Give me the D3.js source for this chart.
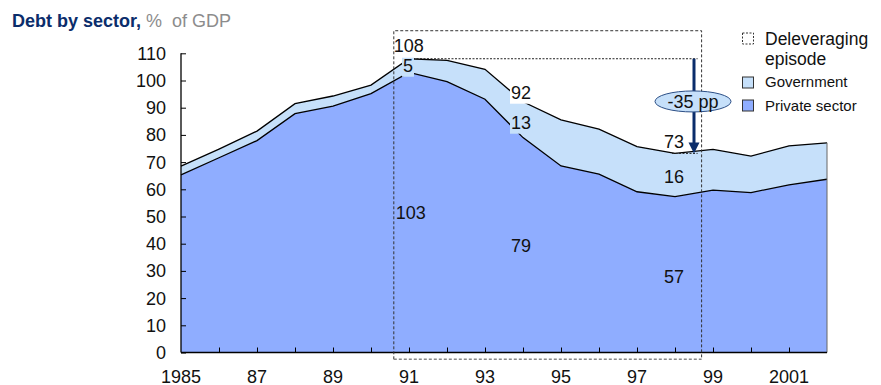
<!DOCTYPE html>
<html><head><meta charset="utf-8">
<script src="https://cdn.jsdelivr.net/npm/d3@7"></script>
<style>
html,body{margin:0;padding:0;background:#fff;}
svg{display:block;font-family:"Liberation Sans",Arial,sans-serif;}
</style></head>
<body><svg id="c" width="881" height="385"></svg>
<script>
const years = [1985,1986,1987,1988,1989,1990,1991,1992,1993,1994,1995,1996,1997,1998,1999,2000,2001,2002];
const privateDebt = [65.3,71.6,77.9,87.8,90.6,95.2,103,99.6,93.1,79,68.6,65.6,59.1,57.3,59.7,58.8,61.6,63.7];
const totalDebt   = [68.5,74.8,81.4,91.5,94.3,98.3,108,107.4,104.1,92.2,85.5,82.1,75.7,73.2,74.7,72.2,76,77.1];
const government = totalDebt.map((t,i)=>+(t-privateDebt[i]).toFixed(1));
const yTicks = [0,10,20,30,40,50,60,70,80,90,100,110];
const xTickLabels = [[1985,"1985"],[1987,"87"],[1989,"89"],[1991,"91"],[1993,"93"],[1995,"95"],[1997,"97"],[1999,"99"],[2001,"2001"]];
const episode = [1990.6, 1998.7];
const peakYear = 1991, troughYear = 1998, midYear = 1994;
const colors = {priv:"#8fadff", gov:"#c6e0fa", navy:"#0b2d6b", grey:"#8c8c8c"};
const FS = "18px";

const svg = d3.select("#c");
const x = d3.scaleLinear().domain([1985,2002]).range([181,827]);
const y = d3.scaleLinear().domain([0,110]).range([352.5,53.3]);

// title
const t = svg.append("text").attr("x",12).attr("y",27).style("font-size",FS);
t.append("tspan").attr("fill",colors.navy).attr("font-weight","bold").text("Debt by sector,");
t.append("tspan").attr("fill",colors.grey).attr("dx",5).text("%\u00a0 of GDP");

const rows = years.map((yr,i)=>({yr, p:privateDebt[i], g:government[i], t:privateDebt[i]+government[i]}));

// areas
svg.append("path").datum(rows).attr("fill",colors.gov)
  .attr("d", d3.area().x(d=>x(d.yr)).y0(d=>y(d.p)).y1(d=>y(d.t)));
svg.append("path").datum(rows).attr("fill",colors.priv)
  .attr("d", d3.area().x(d=>x(d.yr)).y0(y(0)).y1(d=>y(d.p)));
svg.append("path").datum(rows).attr("fill","none").attr("stroke","#000").attr("stroke-width",1.3)
  .attr("d", d3.line().x(d=>x(d.yr)).y(d=>y(d.t)));
svg.append("path").datum(rows).attr("fill","none").attr("stroke","#000").attr("stroke-width",1.3)
  .attr("d", d3.line().x(d=>x(d.yr)).y(d=>y(d.p)));
svg.append("line").attr("x1",x(2002)).attr("x2",x(2002)).attr("y1",y(rows[rows.length-1].t)).attr("y2",y(0))
  .attr("stroke","#666").attr("stroke-width",1);

// axes
const yAxis = svg.append("g").attr("transform",`translate(${x(1985)},0)`)
  .call(d3.axisRight(y).tickValues(yTicks).tickSize(5).tickFormat(""));
yAxis.select(".domain").remove();
yAxis.selectAll("line").attr("stroke","#000");
svg.append("line").attr("x1",x(1985)).attr("x2",x(1985)).attr("y1",y(110)).attr("y2",y(0)).attr("stroke","#000").attr("stroke-width",1.3);
svg.selectAll(".ylab").data(yTicks).join("text").attr("class","ylab")
  .attr("x",x(1985)-15).attr("y",d=>y(d)+6.5).attr("text-anchor","end")
  .style("font-size",FS).attr("fill","#111").text(d=>d);

const xAxis = svg.append("g").attr("transform",`translate(0,${y(0)})`)
  .call(d3.axisTop(x).tickValues(years.slice(1,-1)).tickSize(5).tickFormat(""));
xAxis.select(".domain").remove();
xAxis.selectAll("line").attr("stroke","#000");
svg.append("line").attr("x1",x(1985)).attr("x2",x(2002)).attr("y1",y(0)).attr("y2",y(0)).attr("stroke","#000").attr("stroke-width",1.5);
svg.selectAll(".xlab").data(xTickLabels).join("text").attr("class","xlab")
  .attr("x",d=>x(d[0])).attr("y",y(0)+30).attr("text-anchor","middle")
  .style("font-size",FS).attr("fill","#111").text(d=>d[1]);

// episode box
const bx0 = x(episode[0]), bx1 = x(episode[1]), by0 = y(118.3), by1 = y(-2.5);
svg.append("path").attr("d",`M${bx0},${by1}V${by0}H${bx1}V${by1}`).attr("fill","none")
  .attr("stroke","#333").attr("stroke-width",1).attr("stroke-dasharray","3,2");
svg.append("line").attr("x1",bx0).attr("x2",bx1).attr("y1",by1).attr("y2",by1)
  .attr("stroke","#888").attr("stroke-width",1.5).attr("stroke-dasharray","3,2");

// reference dashed lines
const iPeak = years.indexOf(peakYear), iTr = years.indexOf(troughYear), iMid = years.indexOf(midYear);
const arrowX = x(1998.5);
svg.append("line").attr("x1",x(peakYear)+4).attr("x2",bx1-4).attr("y1",y(totalDebt[iPeak])).attr("y2",y(totalDebt[iPeak]))
  .attr("stroke","#222").attr("stroke-width",1).attr("stroke-dasharray","2,1.5");
svg.append("line").attr("x1",x(troughYear)-3).attr("x2",bx1-4).attr("y1",y(totalDebt[iTr])).attr("y2",y(totalDebt[iTr]))
  .attr("stroke","#222").attr("stroke-width",1).attr("stroke-dasharray","2,1.5");

// arrow
svg.append("line").attr("x1",arrowX).attr("x2",arrowX).attr("y1",y(totalDebt[iPeak])).attr("y2",y(totalDebt[iTr])-9)
  .attr("stroke",colors.navy).attr("stroke-width",3);
svg.append("path").attr("d",`M${arrowX-5.5},${y(totalDebt[iTr])-11}L${arrowX+5.5},${y(totalDebt[iTr])-11}L${arrowX},${y(totalDebt[iTr])}Z`)
  .attr("fill",colors.navy);
const ey = y(92.3);
svg.append("ellipse").attr("cx",arrowX-1).attr("cy",ey).attr("rx",38).attr("ry",10.5)
  .attr("fill",colors.gov).attr("stroke","#2c4f86").attr("stroke-width",1);
svg.append("text").attr("x",arrowX-1).attr("y",ey+6.5).attr("text-anchor","middle")
  .style("font-size",FS).attr("fill","#111").text("-35 pp");

// value labels
function lab(txt, cx, base, bg, anchor){
  const g = svg.append("g");
  const te = g.append("text").attr("x",cx).attr("y",base).attr("text-anchor",anchor||"middle")
    .style("font-size",FS).attr("fill","#111").text(txt);
  if(bg){
    const b = te.node().getBBox();
    g.insert("rect","text").attr("x",b.x-1).attr("y",b.y+2).attr("width",b.width+2).attr("height",b.height-1).attr("fill",bg);
  }
}
lab(String(Math.round(totalDebt[iPeak])), bx0, y(totalDebt[iPeak])-7, null, "start");
lab(String(Math.round(government[iPeak])), x(peakYear)-1, y(totalDebt[iPeak])+13, colors.gov);
lab(String(Math.round(privateDebt[iPeak])), bx0+2, y(49), null, "start");
lab(String(Math.round(totalDebt[iMid])), x(midYear)-2, y(totalDebt[iMid])-3, "#fff");
lab(String(Math.round(government[iMid])), x(midYear)-2, y(totalDebt[iMid])+27, colors.gov);
lab(String(Math.round(privateDebt[iMid])), x(midYear)-2, y(36.8));
lab(String(Math.round(totalDebt[iTr])), x(troughYear)-1, y(totalDebt[iTr])-5);
lab(String(Math.round(government[iTr])), x(troughYear)-1, y(62.3));
lab(String(Math.round(privateDebt[iTr])), x(troughYear)-1, y(25.6));

// legend
const lg = svg.append("g");
lg.append("rect").attr("x",742.5).attr("y",33).attr("width",11).attr("height",11).attr("fill","none")
  .attr("stroke","#333").attr("stroke-dasharray","2,1.5");
lg.append("text").attr("x",765).attr("y",45).style("font-size","17.5px").attr("fill","#111").text("Deleveraging");
lg.append("text").attr("x",765).attr("y",65).style("font-size","17.5px").attr("fill","#111").text("episode");
lg.append("rect").attr("x",742.5).attr("y",77).attr("width",11).attr("height",11).attr("fill",colors.gov).attr("stroke","#333");
lg.append("text").attr("x",765).attr("y",87).style("font-size","15px").attr("fill","#111").text("Government");
lg.append("rect").attr("x",742.5).attr("y",100).attr("width",11).attr("height",11).attr("fill",colors.priv).attr("stroke","#333");
lg.append("text").attr("x",765).attr("y",111).style("font-size","15px").attr("fill","#111").text("Private sector");
</script></body></html>
